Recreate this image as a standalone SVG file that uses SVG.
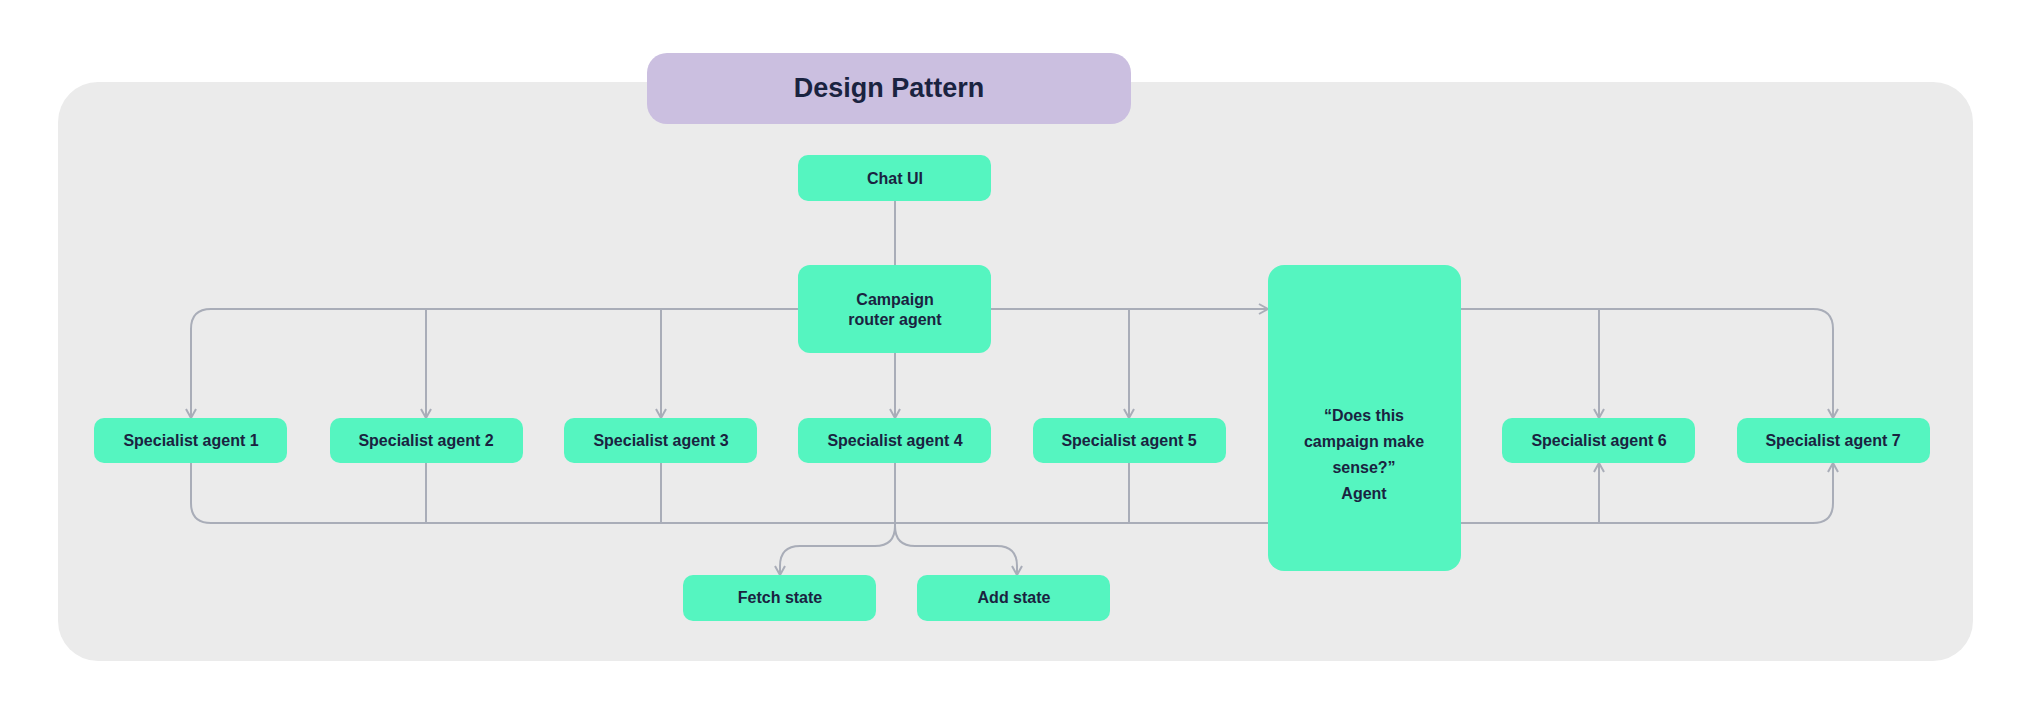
<svg xmlns="http://www.w3.org/2000/svg" width="2029" height="714" viewBox="0 0 2029 714">
<style>
.n{fill:#55f5c0}
.t{font-family:"Liberation Sans",Arial,sans-serif;font-weight:bold;font-size:16px;fill:#1a2340;text-anchor:middle}
.c{fill:none;stroke:#a9adb8;stroke-width:2}
</style>
<defs>
<marker id="a" viewBox="0 0 12 12" refX="11" refY="6" markerWidth="12" markerHeight="12" markerUnits="userSpaceOnUse" orient="auto">
<path d="M2,1 L11,6 L2,11" fill="none" stroke="#a9adb8" stroke-width="2"/>
</marker>
</defs>
<rect width="2029" height="714" fill="#ffffff"/>
<rect x="58" y="82" width="1915" height="579" rx="40" fill="#ebebeb"/>
<g id="title">
<rect x="647" y="53" width="484" height="71" rx="20" fill="#cbbfe0"/>
<text x="889" y="97" font-family="'Liberation Sans',Arial,sans-serif" font-weight="bold" font-size="27" fill="#1a2340" text-anchor="middle">Design Pattern</text>
</g>
<g id="connectors" class="c">
<path d="M895,201 V418" marker-end="url(#a)"/>
<path d="M798,309 H211 Q191,309 191,329 V418" marker-end="url(#a)"/>
<path d="M426,309 V418" marker-end="url(#a)"/>
<path d="M661,309 V418" marker-end="url(#a)"/>
<path d="M991,309 H1268" marker-end="url(#a)"/>
<path d="M1129,309 V418" marker-end="url(#a)"/>
<path d="M1461,309 H1813 Q1833,309 1833,329 V418" marker-end="url(#a)"/>
<path d="M1599,309 V418" marker-end="url(#a)"/>
<path d="M191,463 V503 Q191,523 211,523 H1813 Q1833,523 1833,503 V463" marker-end="url(#a)"/>
<path d="M426,463 V523 M661,463 V523 M1129,463 V523"/>
<path d="M1599,523 V463" marker-end="url(#a)"/>
<path d="M895,463 V526 Q895,546 875,546 H800 Q780,546 780,566 V575" marker-end="url(#a)"/>
<path d="M895,526 Q895,546 915,546 H997 Q1017,546 1017,566 V575" marker-end="url(#a)"/>
</g>
<g id="chat"><rect class="n" x="798" y="155" width="193" height="46" rx="10"/><text class="t" x="895" y="184">Chat UI</text></g>
<g id="router"><rect class="n" x="798" y="265" width="193" height="88" rx="12"/><text class="t" x="895" y="305">Campaign</text><text class="t" x="895" y="325">router agent</text></g>
<g id="s1"><rect class="n" x="94" y="418" width="193" height="45" rx="10"/><text class="t" x="191" y="446">Specialist agent 1</text></g>
<g id="s2"><rect class="n" x="330" y="418" width="193" height="45" rx="10"/><text class="t" x="426" y="446">Specialist agent 2</text></g>
<g id="s3"><rect class="n" x="564" y="418" width="193" height="45" rx="10"/><text class="t" x="661" y="446">Specialist agent 3</text></g>
<g id="s4"><rect class="n" x="798" y="418" width="193" height="45" rx="10"/><text class="t" x="895" y="446">Specialist agent 4</text></g>
<g id="s5"><rect class="n" x="1033" y="418" width="193" height="45" rx="10"/><text class="t" x="1129" y="446">Specialist agent 5</text></g>
<g id="s6"><rect class="n" x="1502" y="418" width="193" height="45" rx="10"/><text class="t" x="1599" y="446">Specialist agent 6</text></g>
<g id="s7"><rect class="n" x="1737" y="418" width="193" height="45" rx="10"/><text class="t" x="1833" y="446">Specialist agent 7</text></g>
<g id="check"><rect class="n" x="1268" y="265" width="193" height="306" rx="16"/>
<text class="t" x="1364" y="421">“Does this</text><text class="t" x="1364" y="447">campaign make</text><text class="t" x="1364" y="473">sense?”</text><text class="t" x="1364" y="499">Agent</text></g>
<g id="fetch"><rect class="n" x="683" y="575" width="193" height="46" rx="10"/><text class="t" x="780" y="603">Fetch state</text></g>
<g id="add"><rect class="n" x="917" y="575" width="193" height="46" rx="10"/><text class="t" x="1014" y="603">Add state</text></g>
</svg>
